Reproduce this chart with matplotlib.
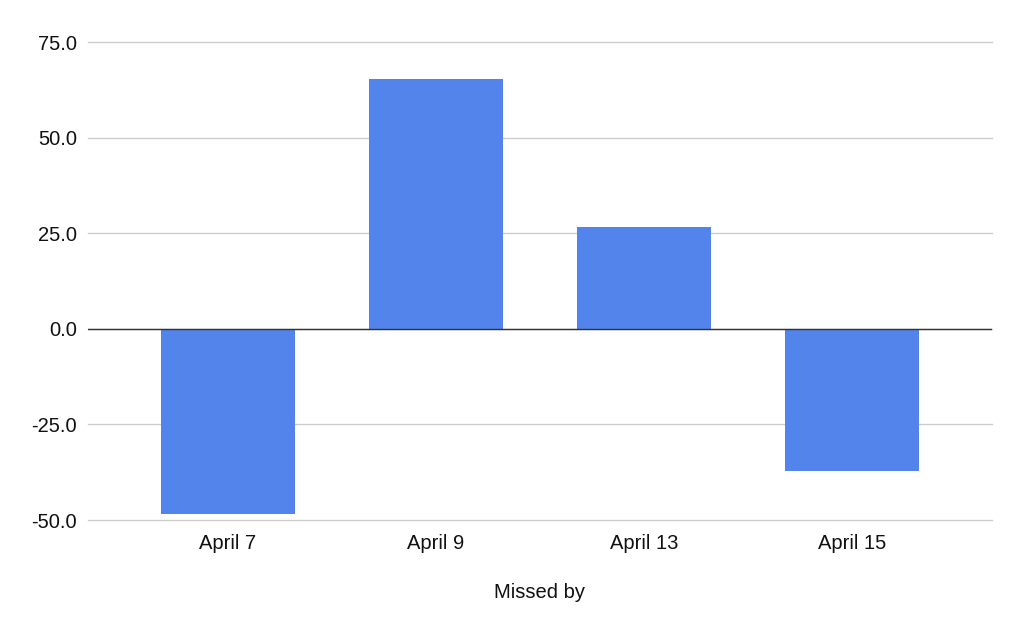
import numpy as np
import matplotlib.pyplot as plt

plt.rcParams['font.family'] = ['Liberation Sans', 'DejaVu Sans']

# data
dates = ['April 7', 'April 9', 'April 13', 'April 15']
missed_by = [-48.4, 65.4, 26.7, -37.1]
y_ticks = [-50, -25, 0, 25, 50, 75]

fig = plt.figure(figsize=(10.24, 6.33), dpi=100)
ax = fig.add_axes([88 / 1024, 1 - 520 / 633, (992 - 88) / 1024, (520 - 42) / 633])

x = np.arange(len(dates))
ax.bar(x, missed_by, width=0.644, color='#5384EC', zorder=3)
ax.axhline(0, color='#333333', lw=1, zorder=4)

ax.set_xlim(-0.673, len(dates) - 1 + 0.673)
ax.set_ylim(-50, 75)
ax.set_yticks(y_ticks)
ax.set_yticklabels(['%.1f' % v for v in y_ticks])
ax.set_xticks(x)
ax.set_xticklabels(dates)
ax.grid(axis='y', color='#cccccc', lw=1, zorder=0)
for gl in ax.get_ygridlines():
    gl.set_clip_on(False)
ax.tick_params(length=0, labelsize=14.5, colors='#111111')
ax.tick_params(axis='x', pad=10)
ax.tick_params(axis='y', pad=8)
for s in ax.spines.values():
    s.set_visible(False)

ax.set_xlabel('Missed by', fontsize=14.5, color='#111111', labelpad=22)

fig.savefig('out.png', dpi=100)
